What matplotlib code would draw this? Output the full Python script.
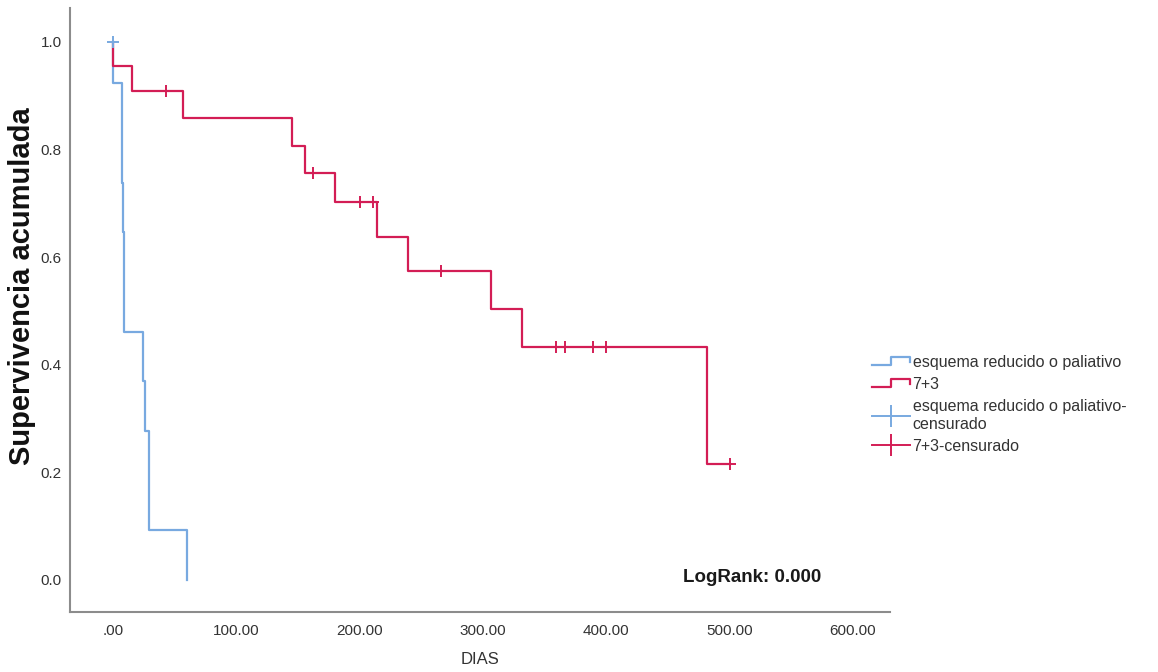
import matplotlib
matplotlib.use("Agg")
import matplotlib.pyplot as plt
from matplotlib.lines import Line2D
from matplotlib.legend_handler import HandlerBase

# ---------------------------------------------------------
# data (Kaplan-Meier curves)
# ---------------------------------------------------------
blue_t = [0, 0, 7.2, 7.8, 8.6, 24.6, 26.2, 29.4, 59.7]
blue_s = [1.0, 0.923, 0.738, 0.646, 0.461, 0.369, 0.277, 0.092, 0.0]
blue_cens_t = [0]
blue_cens_s = [1.0]

red_t = [0, 0, 15.6, 56.5, 145.4, 155.4, 180, 214, 239.5, 306.5, 331.7, 481.2, 500.4]
red_s = [1.0, 0.955, 0.909, 0.859, 0.807, 0.757, 0.703, 0.638, 0.575, 0.503, 0.432, 0.216, 0.216]
red_cens_t = [42.7, 161.7, 199.8, 210.6, 265.5, 359.2, 366.8, 389.5, 399.8, 500.4]
red_cens_s = [0.909, 0.757, 0.703, 0.703, 0.575, 0.432, 0.432, 0.432, 0.432, 0.216]

x_ticks = [0, 100, 200, 300, 400, 500, 600]
x_labels = [".00", "100.00", "200.00", "300.00", "400.00", "500.00", "600.00"]
y_ticks = [0.0, 0.2, 0.4, 0.6, 0.8, 1.0]
y_labels = ["0.0", "0.2", "0.4", "0.6", "0.8", "1.0"]

labels = ["esquema reducido o paliativo", "7+3",
          "esquema reducido o paliativo-\ncensurado", "7+3-censurado"]

BLUE = "#78A9E0"
RED = "#D31D55"
TXT = "#333333"

plt.rcParams["font.family"] = ["Liberation Sans", "DejaVu Sans"]


class StepHandler(HandlerBase):
    # little step icon as used in the SPSS legend
    def create_artists(self, legend, orig_handle, xdescent, ydescent,
                       width, height, fontsize, trans):
        x0 = -xdescent
        y0 = -ydescent
        xs = [x0, x0 + 0.5 * width, x0 + 0.5 * width, x0 + width, x0 + width]
        ys = [y0 + 0.15 * height, y0 + 0.15 * height, y0 + 0.85 * height,
              y0 + 0.85 * height, y0 + 0.45 * height]
        ln = Line2D(xs, ys, color=orig_handle.get_color(),
                    lw=orig_handle.get_linewidth(), transform=trans)
        return [ln]


fig = plt.figure(figsize=(11.58, 6.72), dpi=100)
ax = fig.add_axes([0.0604, 0.0893, 0.7082, 0.8987])

l_blue, = ax.step(blue_t, blue_s, where="post", color=BLUE, lw=1.6)
l_red, = ax.step(red_t, red_s, where="post", color=RED, lw=1.6)
c_blue, = ax.plot(blue_cens_t, blue_cens_s, ls="none", marker="+", ms=9,
                  mew=1.4, color=BLUE)
c_red, = ax.plot(red_cens_t, red_cens_s, ls="none", marker="+", ms=9,
                 mew=1.4, color=RED)

ax.set_xlim(-35, 630)
ax.set_ylim(-0.06, 1.063)
ax.set_xticks(x_ticks)
ax.set_xticklabels(x_labels)
ax.set_yticks(y_ticks)
ax.set_yticklabels(y_labels)
ax.tick_params(axis="both", length=0, labelsize=11, labelcolor=TXT)
ax.tick_params(axis="x", pad=9)
ax.tick_params(axis="y", pad=6)

for s in ["top", "right"]:
    ax.spines[s].set_visible(False)
for s in ["left", "bottom"]:
    ax.spines[s].set_color("#8c8c8c")
    ax.spines[s].set_linewidth(1.5)

ax.set_xlabel("DIAS", fontsize=12, color=TXT, labelpad=10)
fig.text(0.019, 0.574, "Supervivencia acumulada", rotation=90,
         ha="center", va="center", fontsize=21, fontweight="bold",
         color="#111111")

ax.text(0.747, 0.057, "LogRank: 0.000", transform=ax.transAxes,
        fontsize=13.5, fontweight="bold", color="#1a1a1a",
        ha="left", va="center")

h_blue_c = Line2D([], [], color=BLUE, lw=1.4, marker="|", ms=16, mew=1.4)
h_red_c = Line2D([], [], color=RED, lw=1.4, marker="|", ms=16, mew=1.4)

fig.legend([l_blue, l_red, h_blue_c, h_red_c], labels,
           loc="upper left", bbox_to_anchor=(0.746, 0.484),
           frameon=False, fontsize=11.5, handlelength=2.4,
           handletextpad=0.15, labelspacing=0.45, borderpad=0,
           numpoints=1, labelcolor=TXT,
           handler_map={l_blue: StepHandler(), l_red: StepHandler()})

plt.savefig("out.png", dpi=100)
plt.close()
